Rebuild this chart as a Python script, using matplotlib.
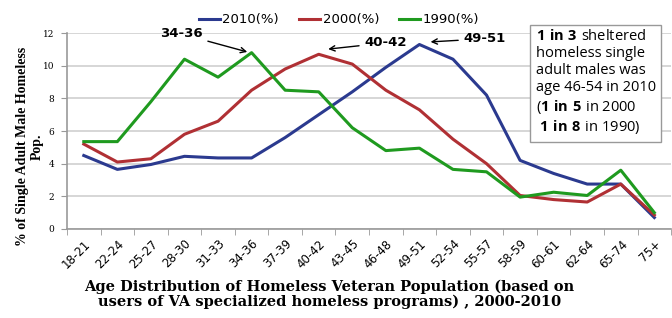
import matplotlib.pyplot as plt
import numpy as np

ages = ['18-21', '22-24', '25-27', '28-30', '31-33', '34-36', '37-39', '40-42',
        '43-45', '46-48', '49-51', '52-54', '55-57', '58-59', '60-61', '62-64',
        '65-74', '75+']
pct_2010 = [4.5, 3.65, 3.95, 4.45, 4.35, 4.35, 5.6, 7.0, 8.4, 9.9, 11.3, 10.4,
            8.2, 4.2, 3.4, 2.75, 2.75, 0.7]
pct_2000 = [5.2, 4.1, 4.3, 5.8, 6.6, 8.5, 9.8, 10.7, 10.1, 8.5, 7.3, 5.5,
            4.0, 2.05, 1.8, 1.65, 2.75, 0.85]
pct_1990 = [5.35, 5.35, 7.8, 10.4, 9.3, 10.8, 8.5, 8.4, 6.2, 4.8, 4.95, 3.65,
            3.5, 1.95, 2.25, 2.05, 3.6, 1.0]
yticks = [0, 2, 4, 6, 8, 10, 12]

# bold runs inside the note box use the same face as the rest of it
plt.rcParams['mathtext.fontset'] = 'custom'
plt.rcParams['mathtext.rm'] = 'Open Sans'
plt.rcParams['mathtext.bf'] = 'Open Sans:bold'

fig = plt.figure(figsize=(6.72, 3.18), dpi=100)
ax = fig.add_axes([0.0997, 0.280, 0.899, 0.616])

x = np.arange(len(ages))
ax.plot(x, pct_2010, color='#2b3a8f', lw=2.2, label='2010(%)')
ax.plot(x, pct_2000, color='#b03034', lw=2.2, label='2000(%)')
ax.plot(x, pct_1990, color='#1f9a1f', lw=2.2, label='1990(%)')

ax.set_xlim(-0.5, len(ages) - 0.5)
ax.set_ylim(0, 12)
ax.set_yticks(yticks)
ax.set_yticklabels([str(v) for v in yticks], family='DejaVu Serif',
                   fontsize=6.5)
ax.set_xticks(x)
ax.set_xticklabels(ages, rotation=45, ha='right', rotation_mode='anchor',
                   fontsize=8.5)
ax.set_xticks(np.arange(len(ages) + 1) - 0.5, minor=True)
ax.tick_params(axis='x', which='major', length=0, pad=6)
ax.tick_params(axis='x', which='minor', length=4, color='#999999')
ax.tick_params(axis='y', length=4, color='#999999', pad=5)
ax.grid(axis='y', color='#d0d0d0', lw=1.2)
ax.set_axisbelow(True)
for s in ['top', 'right']:
    ax.spines[s].set_visible(False)
for s in ['left', 'bottom']:
    ax.spines[s].set_color('#999999')
    ax.spines[s].set_linewidth(1.2)

ax.legend(loc='lower center', bbox_to_anchor=(0.45, 1.0), ncol=3,
          frameon=False, fontsize=9.5, handlelength=1.6, handletextpad=0.2,
          columnspacing=1.5, borderaxespad=0.1)

arrow = dict(arrowstyle='->', color='black', lw=1)
ax.annotate('34-36', xy=(4.95, 10.8), xytext=(2.9, 11.95), fontsize=9.5,
            fontweight='bold', ha='center', va='center', arrowprops=arrow)
ax.annotate('40-42', xy=(7.2, 11.0), xytext=(9.0, 11.4), fontsize=9.5,
            fontweight='bold', ha='center', va='center', arrowprops=arrow)
ax.annotate('49-51', xy=(10.25, 11.45), xytext=(11.95, 11.65), fontsize=9.5,
            fontweight='bold', ha='center', va='center', arrowprops=arrow)

fig.text(0.797, 0.91,
         r'$\bf{1\ in\ 3}\ $sheltered' '\nhomeless single\nadult males was\n'
         'age 46-54 in 2010\n' r'($\bf{1\ in\ 5}\ $in 2000' '\n'
         r' $\bf{1\ in\ 8}\ $in 1990)',
         family='Open Sans', fontsize=10.5, va='top', ha='left',
         linespacing=1.2,
         bbox=dict(boxstyle='square,pad=0.35', fc='white', ec='#999999'))

fig.text(0.49, 0.075, 'Age Distribution of Homeless Veteran Population (based on\n'
         'users of VA specialized homeless programs) , 2000-2010',
         family='DejaVu Serif', fontweight='bold', fontsize=10.5,
         ha='center', va='center', linespacing=1.1)
fig.text(0.045, 0.54, '% of Single Adult Male Homeless\nPop.',
         family='Liberation Serif', fontweight='bold', fontsize=10,
         rotation=90, ha='center', va='center', linespacing=1.15)

fig.savefig('out.png', dpi=100)
